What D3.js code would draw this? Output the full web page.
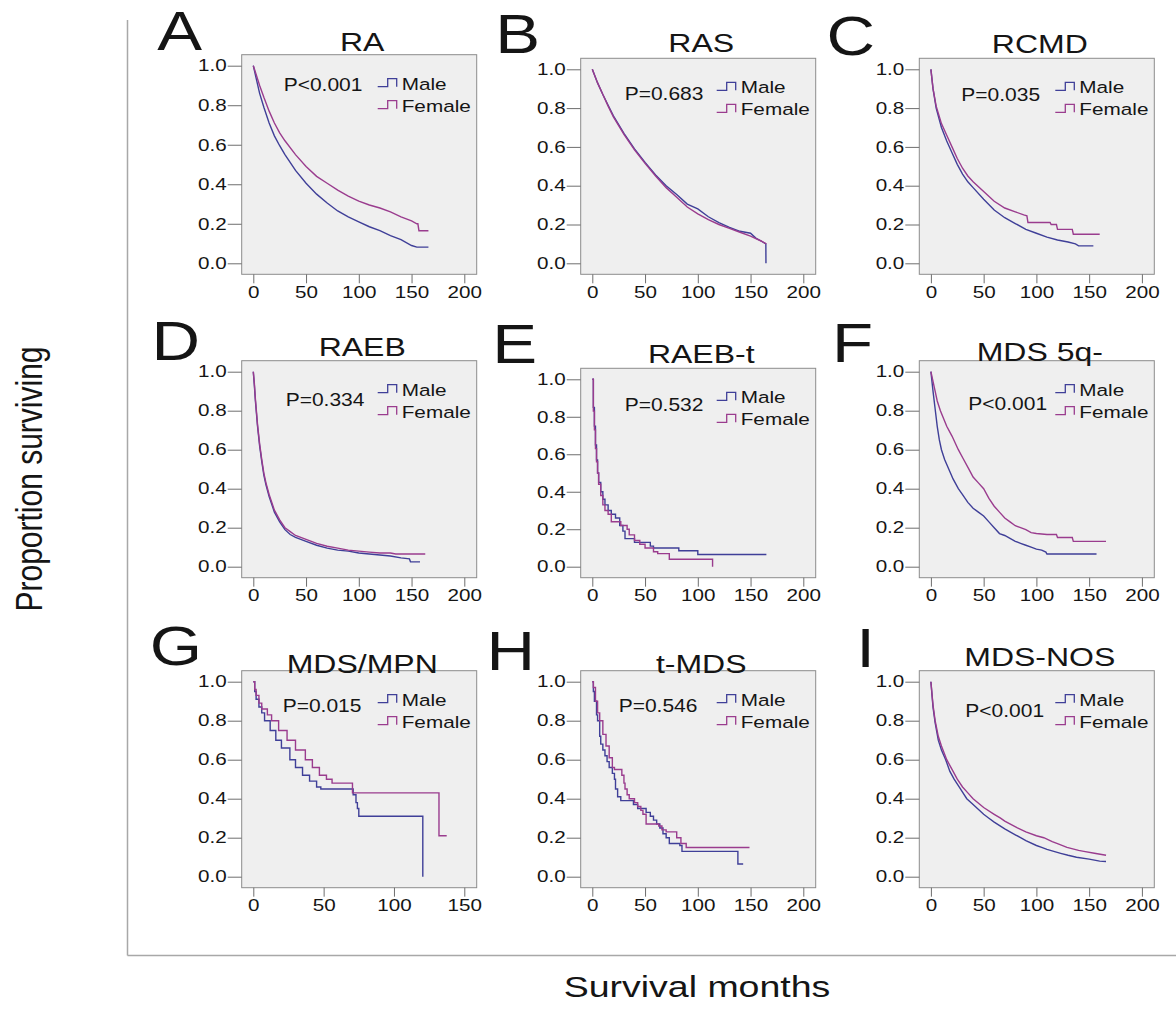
<!DOCTYPE html>
<html><head><meta charset="utf-8">
<script src="https://cdn.jsdelivr.net/npm/d3@7"></script>
<style>
body{margin:0;background:#fff}
svg{display:block}
text{font-family:"Liberation Sans",Arial,Helvetica,sans-serif;fill:#151515}
</style>
</head><body>
<svg id="chart" width="1176" height="1018"></svg>
<script>
// ---------------- DATA ----------------
const panelLetters = ["A","B","C","D","E","F","G","H","I"];
const panelTitles  = ["RA","RAS","RCMD","RAEB","RAEB-t","MDS 5q-","MDS/MPN","t-MDS","MDS-NOS"];
const pLabels      = ["P<0.001","P=0.683","P=0.035","P=0.334","P=0.532","P<0.001","P=0.015","P=0.546","P<0.001"];
const seriesNames  = ["Male","Female"];
const yTicks       = [0.0,0.2,0.4,0.6,0.8,1.0];
const xTicks200    = [0,50,100,150,200];
const xTicks150    = [0,50,100,150];
const xAxisTitle   = "Survival months";
const yAxisTitle   = "Proportion surviving";

// [month, proportion surviving]
const raMale = [[0,1],[3,0.93],[6,0.86],[10,0.79],[15,0.71],[20,0.645],[25,0.595],[30,0.55],[40,0.47],[50,0.405],[60,0.35],[70,0.305],[80,0.265],[90,0.235],[100,0.21],[110,0.185],[120,0.165],[130,0.14],[140,0.12],[150,0.09],[155,0.082],[166,0.082]];
const raFemale = [[0,1],[3,0.95],[6,0.9],[10,0.84],[15,0.77],[20,0.71],[25,0.66],[30,0.62],[40,0.55],[50,0.49],[60,0.44],[70,0.405],[80,0.37],[90,0.34],[100,0.315],[110,0.295],[120,0.28],[130,0.26],[140,0.235],[150,0.215],[155,0.2],[156,0.2],[157,0.165],[166,0.165]];

const rasMale = [[0,1],[5,0.93],[10,0.87],[15,0.815],[20,0.76],[30,0.67],[40,0.59],[50,0.52],[60,0.455],[70,0.4],[80,0.355],[90,0.305],[100,0.28],[110,0.24],[120,0.21],[130,0.185],[140,0.165],[150,0.155],[155,0.13],[160,0.115],[164.5,0.1],[164.6,0]];
const rasFemale = [[0,1],[5,0.93],[10,0.87],[15,0.81],[20,0.755],[30,0.665],[40,0.585],[50,0.515],[60,0.45],[70,0.39],[80,0.34],[90,0.29],[100,0.255],[110,0.225],[120,0.2],[130,0.18],[140,0.16],[150,0.14],[160,0.115],[165,0.1]];

const rcmdMale = [[0,1],[2,0.9],[5,0.8],[10,0.7],[15,0.63],[20,0.57],[25,0.51],[30,0.46],[35,0.42],[40,0.39],[50,0.33],[60,0.275],[70,0.235],[80,0.205],[90,0.175],[100,0.155],[110,0.135],[120,0.12],[130,0.11],[137,0.1],[140,0.09],[154,0.09]];
const rcmdFemale = [[0,1],[2,0.9],[5,0.81],[10,0.72],[15,0.66],[20,0.6],[25,0.54],[30,0.49],[35,0.45],[40,0.42],[50,0.37],[60,0.32],[70,0.285],[80,0.265],[88,0.25],[91,0.245],[92,0.21],[113,0.21],[114,0.2],[119,0.2],[120,0.175],[134,0.175],[135,0.15],[160,0.15]];

const raebMale = [[0,1],[1,0.93],[2,0.85],[4,0.72],[6,0.62],[8,0.54],[10,0.47],[12,0.42],[15,0.36],[20,0.28],[25,0.23],[30,0.19],[35,0.165],[40,0.15],[50,0.13],[60,0.11],[70,0.095],[80,0.085],[90,0.08],[100,0.07],[110,0.065],[120,0.06],[130,0.055],[140,0.045],[148,0.04],[149,0.025],[158,0.025]];
const raebFemale = [[0,1],[1,0.94],[2,0.86],[4,0.73],[6,0.63],[8,0.55],[10,0.48],[12,0.43],[15,0.37],[20,0.29],[25,0.24],[30,0.2],[35,0.18],[40,0.16],[50,0.14],[60,0.12],[70,0.105],[80,0.095],[90,0.085],[100,0.08],[110,0.075],[120,0.07],[130,0.07],[135,0.065],[163,0.065]];

const raebtMale = [[0,1],[1,0.85],[2,0.75],[3,0.65],[4,0.57],[5,0.5],[6,0.45],[8,0.4],[10,0.36],[12,0.33],[15,0.3],[18,0.28],[22,0.26],[26,0.22],[29,0.19],[31,0.15],[40,0.13],[55,0.11],[58,0.1],[82,0.085],[100,0.065],[165,0.065]];
const raebtFemale = [[0,1],[1,0.83],[2,0.73],[3,0.63],[4,0.56],[5,0.5],[6,0.44],[8,0.38],[10,0.33],[12,0.3],[15,0.28],[18,0.24],[27,0.22],[33,0.2],[35,0.17],[40,0.14],[45,0.12],[50,0.1],[58,0.08],[62,0.07],[73,0.04],[113,0.04],[114,0.0]];

const q5Male = [[0,1],[2,0.9],[4,0.81],[6,0.72],[8,0.65],[10,0.6],[13,0.55],[17,0.5],[21,0.45],[26,0.4],[30,0.37],[35,0.33],[40,0.3],[45,0.28],[50,0.26],[55,0.23],[60,0.2],[65,0.17],[70,0.16],[75,0.145],[80,0.13],[85,0.12],[90,0.11],[95,0.1],[100,0.09],[105,0.085],[109,0.075],[110,0.065],[157,0.065]];
const q5Female = [[0,1],[2,0.95],[4,0.9],[6,0.85],[9,0.8],[12,0.76],[15,0.72],[20,0.67],[26,0.6],[30,0.56],[36,0.5],[40,0.46],[45,0.43],[50,0.4],[55,0.35],[60,0.31],[65,0.28],[70,0.25],[75,0.23],[80,0.21],[85,0.2],[90,0.19],[95,0.175],[100,0.17],[110,0.165],[119,0.165],[120,0.15],[134,0.15],[135,0.13],[166,0.13]];

const mpnMale = [[0,1],[1,0.95],[2,0.91],[4,0.87],[6,0.84],[8,0.8],[12,0.75],[16,0.7],[20,0.66],[26,0.6],[30,0.56],[35,0.52],[40,0.49],[45,0.46],[48,0.45],[71,0.42],[73,0.38],[74,0.35],[75,0.31],[120.5,0]];
const mpnFemale = [[0,1],[1,0.96],[2,0.93],[4,0.89],[6,0.86],[10,0.83],[13,0.8],[18,0.75],[24,0.7],[30,0.65],[37,0.6],[42,0.56],[47,0.52],[52,0.5],[56,0.48],[70.5,0.43],[132,0.21],[137.5,0.21]];

const tmdsMale = [[0,1],[1,0.95],[2,0.9],[4,0.83],[5,0.8],[7,0.72],[8,0.68],[10,0.65],[12,0.62],[14,0.59],[16,0.56],[19,0.53],[21,0.5],[22,0.45],[24,0.41],[27,0.39],[39,0.37],[43,0.35],[51,0.33],[55,0.31],[58,0.29],[61,0.27],[64,0.25],[67,0.22],[70,0.2],[73,0.17],[83,0.16],[85,0.13],[138,0.065],[143,0.065]];
const tmdsFemale = [[0,1],[1,0.97],[3,0.9],[5,0.84],[7,0.8],[10,0.73],[13,0.67],[16,0.61],[19,0.56],[21,0.55],[28,0.52],[30,0.48],[31,0.45],[33,0.42],[35,0.4],[40,0.38],[43,0.36],[46,0.34],[48,0.32],[51,0.27],[63,0.26],[66,0.24],[70,0.23],[80,0.2],[84,0.17],[89,0.15],[149,0.15]];

const nosMale = [[0,1],[2,0.87],[4,0.79],[7,0.7],[10,0.65],[14,0.6],[18,0.54],[22,0.5],[28,0.45],[34,0.4],[40,0.37],[50,0.32],[55,0.3],[60,0.28],[70,0.245],[80,0.215],[85,0.2],[90,0.185],[100,0.16],[105,0.15],[110,0.14],[123,0.12],[130,0.11],[138,0.1],[150,0.09],[160,0.08],[166,0.078]];
const nosFemale = [[0,1],[2,0.88],[4,0.8],[7,0.72],[10,0.67],[15,0.6],[20,0.55],[25,0.5],[30,0.46],[35,0.43],[40,0.4],[50,0.355],[60,0.32],[66,0.3],[70,0.285],[82,0.25],[90,0.23],[100,0.21],[107,0.2],[115,0.18],[120,0.17],[129,0.15],[140,0.135],[145,0.13],[155,0.12],[166,0.11]];

const maleSeries   = [raMale, rasMale, rcmdMale, raebMale, raebtMale, q5Male, mpnMale, tmdsMale, nosMale];
const femaleSeries = [raFemale, rasFemale, rcmdFemale, raebFemale, raebtFemale, q5Female, mpnFemale, tmdsFemale, nosFemale];
const stepPanels   = [false,false,false,false,true,false,true,true,false];
const xMaxes       = [200,200,200,200,200,200,150,200,200];

// ---------------- LAYOUT / STYLE ----------------
const colLeft  = [241.7, 580.7, 919.3];
const boxW     = 235;
const yOnePx   = [65.7, 69.3, 69.3, 371.7, 379.3, 371.7, 681.7, 681.7, 681.7];
const yZeroPx  = [263.3, 263.3, 263.3, 566.7, 566.7, 566.7, 876.7, 876.7, 876.7];
const pDx      = [42,44,42,44,44,49,41,38,46];
const pDy      = [25,31,32,34,32,38,30,30,35];
const letterX  = [202,540,875,200,537,873,202,535,875];
const letterY  = [50,53,55,360,363,361.7,665,670,666.7];
const titleDy  = [-4,-6,-5,-5,-5,0,2,2,-5];
const colors   = ["#3f3f98", "#9a3c8e"];
const K = 1.25;
const FONT = '"Liberation Sans",Arial,Helvetica,sans-serif';

const svg = d3.select("#chart");

function sText(parent, x, y, str, size, anchor, k) {
  return parent.append("text")
    .attr("transform", `translate(${x},${y}) scale(${k},1)`)
    .attr("text-anchor", anchor)
    .attr("font-size", size)
    .text(str);
}

// outer frame
svg.append("line").attr("x1",127.5).attr("x2",127.5).attr("y1",20).attr("y2",955.5)
  .attr("stroke","#a8a8a8").attr("stroke-width",1.5);
svg.append("line").attr("x1",127.5).attr("x2",1176).attr("y1",955.5).attr("y2",955.5)
  .attr("stroke","#a8a8a8").attr("stroke-width",1.5);

// axis titles
svg.append("text")
  .attr("transform", `translate(42,479) scale(${K},1) rotate(-90)`)
  .attr("text-anchor","middle").attr("font-size",30).text(yAxisTitle);
sText(svg, 697, 997, xAxisTitle, 30, "middle", K);

panelTitles.forEach((title, i) => {
  const col = i % 3;
  const left = colLeft[col];
  const right = left + boxW;
  const top = yOnePx[i] - 11;
  const bottom = yZeroPx[i] + 11;
  const g = svg.append("g");

  const x = d3.scaleLinear().domain([0, xMaxes[i]]).range([left + 11.6, left + 222.6]);
  const y = d3.scaleLinear().domain([0, 1]).range([yZeroPx[i], yOnePx[i]]);

  g.append("rect").attr("x", left).attr("y", top).attr("width", boxW).attr("height", bottom - top)
    .attr("fill", "#efefef").attr("stroke", "#8c8c8c").attr("stroke-width", 1);

  // y axis
  const ya = g.append("g").attr("transform", `translate(${left},0)`)
    .call(d3.axisLeft(y).tickValues(yTicks).tickFormat(d3.format(".1f")).tickSize(14).tickPadding(2));
  ya.select(".domain").remove();
  ya.attr("font-family", FONT).attr("font-size", 16.5);
  ya.selectAll(".tick line").attr("stroke", "#6e6e6e");
  ya.selectAll(".tick text").attr("fill", "#151515").attr("x", -15 / K).attr("transform", `scale(${K},1)`);

  // x axis
  const xa = g.append("g").attr("transform", `translate(0,${bottom})`)
    .call(d3.axisBottom(x).tickValues(xMaxes[i] === 150 ? xTicks150 : xTicks200).tickSize(9).tickPadding(2.5));
  xa.select(".domain").remove();
  xa.attr("font-family", FONT).attr("font-size", 16.5);
  xa.selectAll(".tick line").attr("stroke", "#6e6e6e");
  xa.selectAll(".tick text").attr("fill", "#151515").attr("transform", `scale(${K},1)`);

  // curves
  const line = d3.line().x(d => x(d[0])).y(d => y(d[1]))
    .curve(stepPanels[i] ? d3.curveStepAfter : d3.curveLinear);
  [maleSeries[i], femaleSeries[i]].forEach((s, j) => {
    g.append("path").datum(s).attr("d", line).attr("fill", "none")
      .attr("stroke", colors[j]).attr("stroke-width", 1.4).attr("stroke-linejoin", "miter");
  });

  // P value
  sText(g, left + pDx[i], yOnePx[i] + pDy[i], pLabels[i], 17.5, "start", 1.2);

  // legend
  const symX = right - 99;
  seriesNames.forEach((name, j) => {
    const by = yOnePx[i] + 24 + j * 22;
    g.append("path")
      .attr("d", `M${symX},${by - 3} H${symX + 10} V${by - 11} H${symX + 19} V${by - 3}`)
      .attr("fill", "none").attr("stroke", colors[j]).attr("stroke-width", 1.3);
    sText(g, symX + 24, by, name, 17, "start", 1.22);
  });

  // title and letter
  sText(g, (left + right) / 2 + 3, top + titleDy[i], title, 25, "middle", 1.28);
  sText(g, letterX[i], letterY[i], panelLetters[i], 56, "end", 1.2);
});
</script>
</body></html>
